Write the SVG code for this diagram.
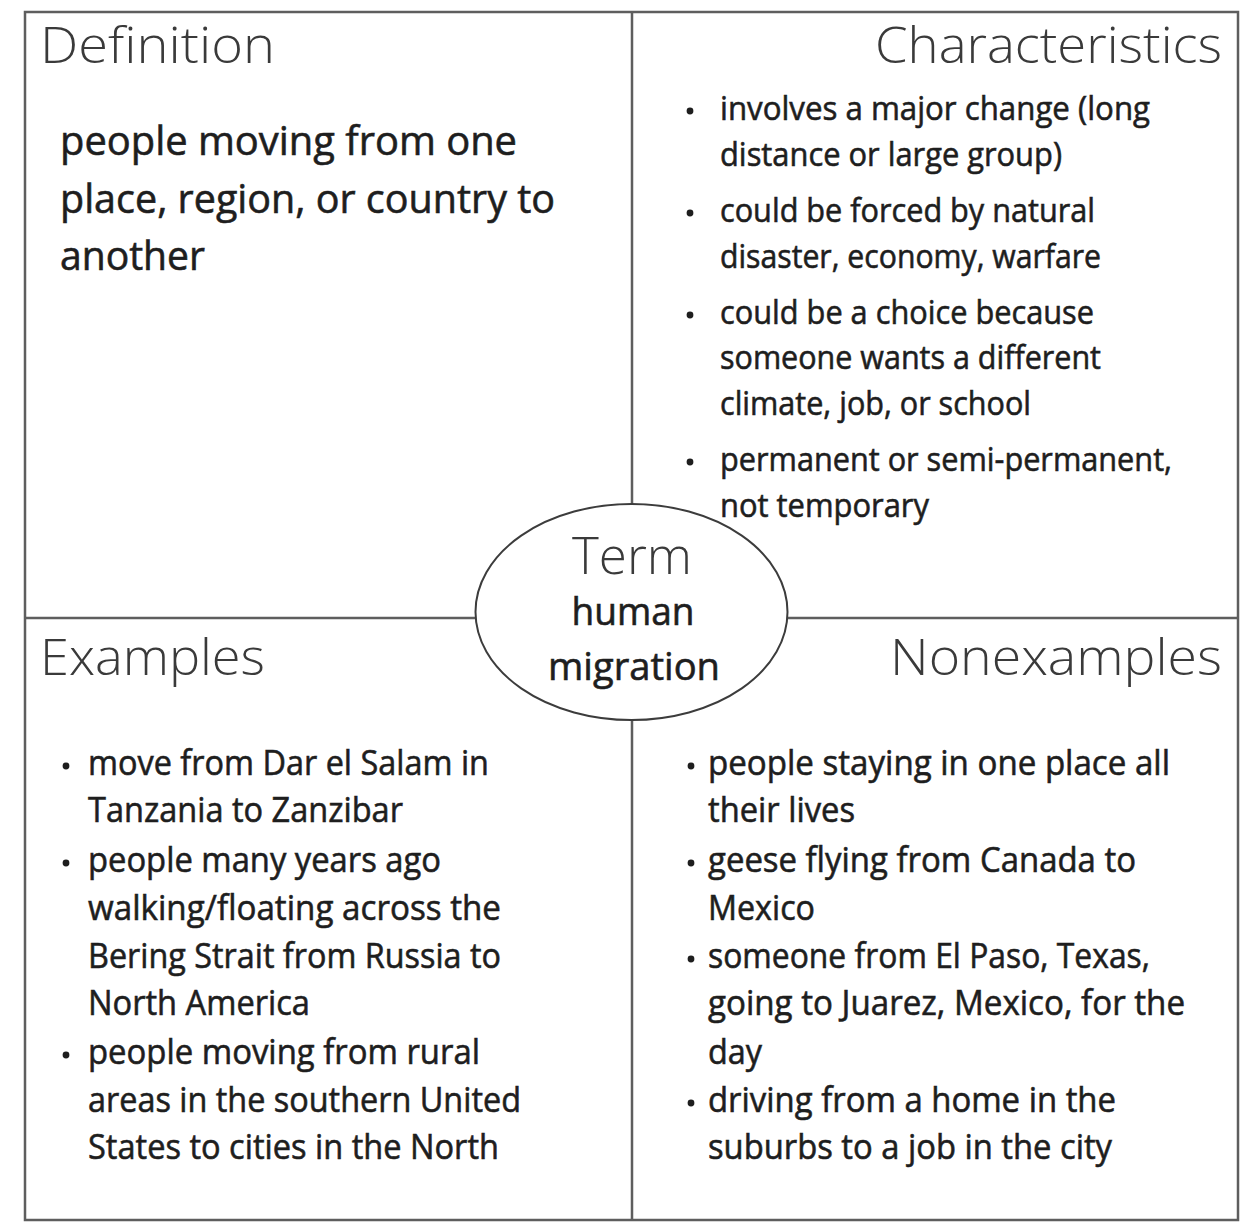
<svg xmlns="http://www.w3.org/2000/svg" width="1249" height="1223" viewBox="0 0 1249 1223">
  <style>
    .frame { fill: none; stroke: #5e5e5e; stroke-width: 2.5; }
    .head { font-family: "Open Sans", "Liberation Sans", sans-serif; font-weight: 300; font-size: 50px; fill: #3a3a3a; }
    .body { font-family: "Open Sans", "Liberation Sans", sans-serif; fill: #1e1e1e; stroke: #1e1e1e; stroke-width: 0.6; }
    .def { font-size: 41px; }
    .chr { font-size: 33.5px; }
    .ex { font-size: 35.5px; }
    .term { font-family: "Open Sans", "Liberation Sans", sans-serif; font-weight: 300; font-size: 51px; fill: #3a3a3a; text-anchor: middle; }
    .word { font-size: 38px; text-anchor: middle; }
    .dot { fill: #1e1e1e; }
  </style>

  <rect width="1249" height="1223" fill="#ffffff"/>

  <!-- outer frame and the cross that splits it into four quadrants -->
  <g id="connectors">
    <rect class="frame" x="25" y="12" width="1213" height="1208"/>
    <line class="frame" x1="632" y1="12" x2="632" y2="1220"/>
    <line class="frame" x1="25" y1="618" x2="1238" y2="618"/>
  </g>

  <g id="definition">
    <text class="head" x="40" y="63" textLength="235" lengthAdjust="spacingAndGlyphs">Definition</text>
    <text class="body def" x="60" y="155" textLength="457" lengthAdjust="spacingAndGlyphs">people moving from one</text>
    <text class="body def" x="60" y="213" textLength="495" lengthAdjust="spacingAndGlyphs">place, region, or country to</text>
    <text class="body def" x="60" y="270" textLength="145" lengthAdjust="spacingAndGlyphs">another</text>
  </g>

  <g id="characteristics">
    <text class="head" x="875" y="63" textLength="347" lengthAdjust="spacingAndGlyphs">Characteristics</text>
    <circle class="dot" cx="690" cy="111" r="3.4"/>
    <text class="body chr" x="720" y="120" textLength="430" lengthAdjust="spacingAndGlyphs">involves a major change (long</text>
    <text class="body chr" x="720" y="166" textLength="342" lengthAdjust="spacingAndGlyphs">distance or large group)</text>
    <circle class="dot" cx="690" cy="213" r="3.4"/>
    <text class="body chr" x="720" y="222" textLength="375" lengthAdjust="spacingAndGlyphs">could be forced by natural</text>
    <text class="body chr" x="720" y="268" textLength="381" lengthAdjust="spacingAndGlyphs">disaster, economy, warfare</text>
    <circle class="dot" cx="690" cy="315" r="3.4"/>
    <text class="body chr" x="720" y="324" textLength="374" lengthAdjust="spacingAndGlyphs">could be a choice because</text>
    <text class="body chr" x="720" y="369" textLength="381" lengthAdjust="spacingAndGlyphs">someone wants a different</text>
    <text class="body chr" x="720" y="415" textLength="311" lengthAdjust="spacingAndGlyphs">climate, job, or school</text>
    <circle class="dot" cx="690" cy="462" r="3.4"/>
    <text class="body chr" x="720" y="471" textLength="452" lengthAdjust="spacingAndGlyphs">permanent or semi-permanent,</text>
    <text class="body chr" x="720" y="517" textLength="209" lengthAdjust="spacingAndGlyphs">not temporary</text>
  </g>

  <g id="examples">
    <text class="head" x="40" y="675" textLength="225" lengthAdjust="spacingAndGlyphs">Examples</text>
    <circle class="dot" cx="66" cy="766" r="3.4"/>
    <text class="body ex" x="88" y="775" textLength="401" lengthAdjust="spacingAndGlyphs">move from Dar el Salam in</text>
    <text class="body ex" x="88" y="822" textLength="315" lengthAdjust="spacingAndGlyphs">Tanzania to Zanzibar</text>
    <circle class="dot" cx="66" cy="863" r="3.4"/>
    <text class="body ex" x="88" y="872" textLength="353" lengthAdjust="spacingAndGlyphs">people many years ago</text>
    <text class="body ex" x="88" y="920" textLength="413" lengthAdjust="spacingAndGlyphs">walking/floating across the</text>
    <text class="body ex" x="88" y="968" textLength="413" lengthAdjust="spacingAndGlyphs">Bering Strait from Russia to</text>
    <text class="body ex" x="88" y="1015" textLength="222" lengthAdjust="spacingAndGlyphs">North America</text>
    <circle class="dot" cx="66" cy="1055" r="3.4"/>
    <text class="body ex" x="88" y="1064" textLength="392" lengthAdjust="spacingAndGlyphs">people moving from rural</text>
    <text class="body ex" x="88" y="1112" textLength="433" lengthAdjust="spacingAndGlyphs">areas in the southern United</text>
    <text class="body ex" x="88" y="1159" textLength="411" lengthAdjust="spacingAndGlyphs">States to cities in the North</text>
  </g>

  <g id="nonexamples">
    <text class="head" x="890" y="675" textLength="332" lengthAdjust="spacingAndGlyphs">Nonexamples</text>
    <circle class="dot" cx="691" cy="766" r="3.4"/>
    <text class="body ex" x="708" y="775" textLength="462" lengthAdjust="spacingAndGlyphs">people staying in one place all</text>
    <text class="body ex" x="708" y="822" textLength="147" lengthAdjust="spacingAndGlyphs">their lives</text>
    <circle class="dot" cx="691" cy="863" r="3.4"/>
    <text class="body ex" x="708" y="872" textLength="428" lengthAdjust="spacingAndGlyphs">geese flying from Canada to</text>
    <text class="body ex" x="708" y="920" textLength="107" lengthAdjust="spacingAndGlyphs">Mexico</text>
    <circle class="dot" cx="691" cy="959" r="3.4"/>
    <text class="body ex" x="708" y="968" textLength="442" lengthAdjust="spacingAndGlyphs">someone from El Paso, Texas,</text>
    <text class="body ex" x="708" y="1015" textLength="477" lengthAdjust="spacingAndGlyphs">going to Juarez, Mexico, for the</text>
    <text class="body ex" x="708" y="1064" textLength="54" lengthAdjust="spacingAndGlyphs">day</text>
    <circle class="dot" cx="691" cy="1103" r="3.4"/>
    <text class="body ex" x="708" y="1112" textLength="408" lengthAdjust="spacingAndGlyphs">driving from a home in the</text>
    <text class="body ex" x="708" y="1159" textLength="404" lengthAdjust="spacingAndGlyphs">suburbs to a job in the city</text>
  </g>

  <!-- central oval holding the term -->
  <g id="term">
    <ellipse cx="631.5" cy="612" rx="156" ry="108" fill="#ffffff" stroke="#3c3c3c" stroke-width="2"/>
    <text class="term" x="632" y="574" textLength="120" lengthAdjust="spacingAndGlyphs">Term</text>
    <text class="body word" x="633" y="625" textLength="123" lengthAdjust="spacingAndGlyphs">human</text>
    <text class="body word" x="634" y="680" textLength="172" lengthAdjust="spacingAndGlyphs">migration</text>
  </g>
</svg>
